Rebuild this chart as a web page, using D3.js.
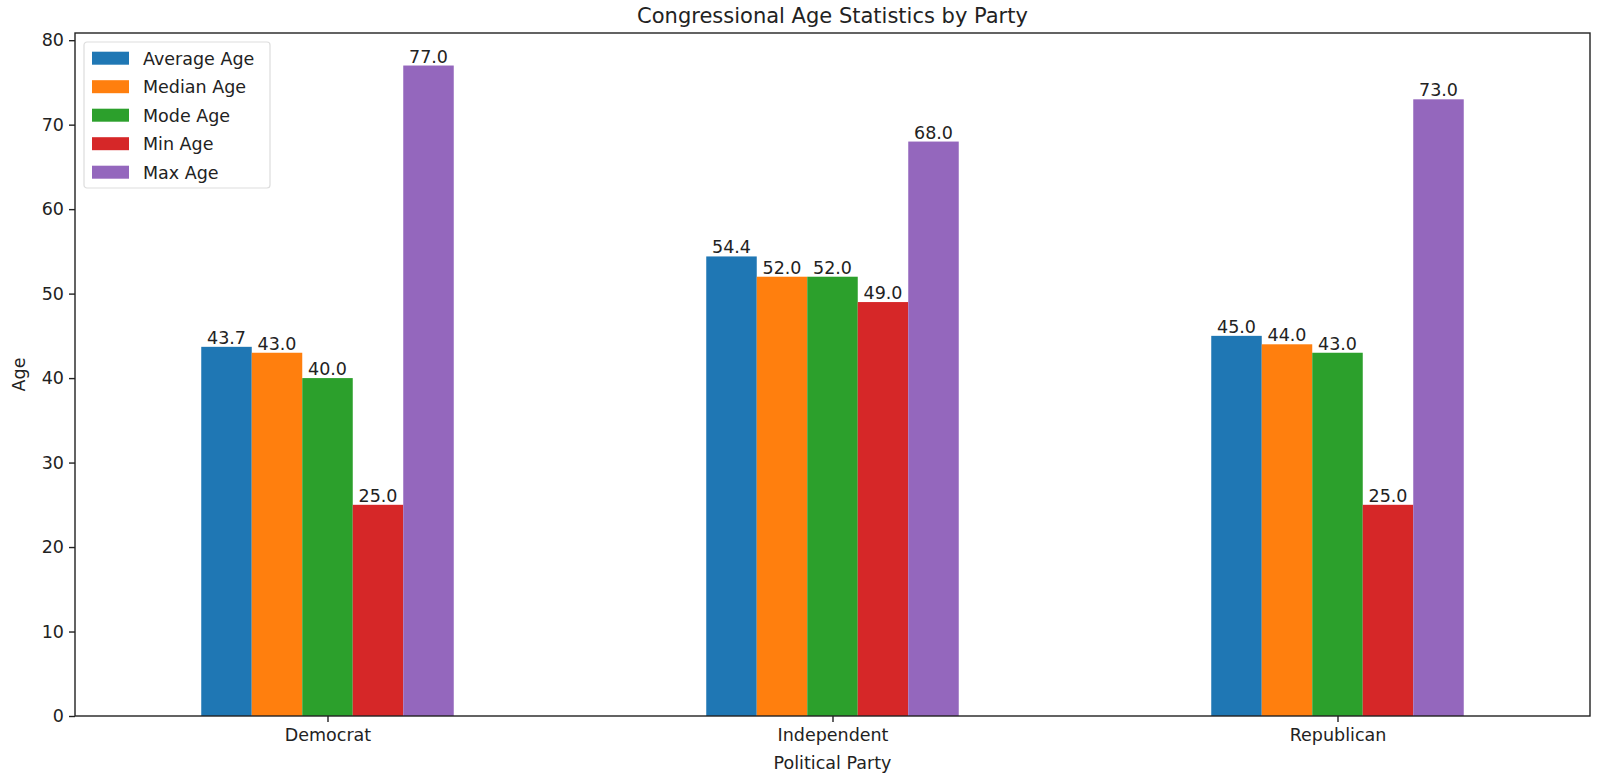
<!DOCTYPE html>
<html>
<head>
<meta charset="utf-8">
<script src="https://cdn.jsdelivr.net/npm/d3@7"></script>
<style>
body { margin: 0; background: #fff; }
text { font-family: "DejaVu Sans", sans-serif; fill: #222; }
</style>
</head>
<body>
<div id="chart"></div>
<script>
var w = 1600;
var h = 775;

var parties = ["Democrat", "Independent", "Republican"];
var seriesNames = ["Average Age", "Median Age", "Mode Age", "Min Age", "Max Age"];
var averageAge = [43.7, 54.4, 45.0];
var medianAge = [43.0, 52.0, 44.0];
var modeAge = [40.0, 52.0, 43.0];
var minAge = [25.0, 49.0, 25.0];
var maxAge = [77.0, 68.0, 73.0];
var yTicks = [0, 10, 20, 30, 40, 50, 60, 70, 80];
var colors = ["#1f77b4", "#ff7f0e", "#2ca02c", "#d62728", "#9467bd"];

var series = [averageAge, medianAge, modeAge, minAge, maxAge];

// plot area (don't use "top" - clashes with window.top)
var plotL = 75, plotR = 1590, plotT = 33, plotB = 716;

var svg = d3.select("#chart")
			.append("svg")
			.attr("width", w)
			.attr("height", h);

// linear x like matplotlib: categories at 0,1,2, limits -0.5..2.5
var x = d3.scaleLinear().domain([-0.5, 2.5]).range([plotL, plotR]);
var y = d3.scaleLinear().domain([0, 80.85]).range([plotB, plotT]);
var barW = 0.1;

//bars
series.forEach(function(vals, s) {
	var g = svg.append("g");
	g.selectAll("rect")
		.data(vals)
		.enter()
		.append("rect")
		.attr("x", function(d, i) { return x(i - 0.25 + s * barW); })
		.attr("width", x(barW) - x(0))
		.attr("y", function(d) { return y(d); })
		.attr("height", function(d) { return y(0) - y(d); })
		.attr("fill", colors[s]);

	g.selectAll("text")
		.data(vals)
		.enter()
		.append("text")
		.attr("x", function(d, i) { return x(i - 0.25 + (s + 0.5) * barW); })
		.attr("y", function(d) { return y(d) - 3; })
		.attr("text-anchor", "middle")
		.style("font-size", "17.5px")
		.text(function(d) { return d.toFixed(1); });
});

//axes
var yAxis = d3.axisLeft(y).tickValues(yTicks).tickSize(6).tickPadding(5);
var xAxis = d3.axisBottom(x).tickValues([0, 1, 2]).tickSize(6).tickPadding(7)
			.tickFormat(function(d) { return parties[d]; });

var ga = svg.append("g").attr("transform", "translate(" + plotL + ",0)").call(yAxis);
var gb = svg.append("g").attr("transform", "translate(0," + plotB + ")").call(xAxis);
[ga, gb].forEach(function(g) {
	g.select(".domain").remove();
	g.selectAll("line").attr("stroke", "#222").attr("stroke-width", 1.4);
	g.selectAll("text").style("font-size", "17.5px").attr("fill", "#222");
});

svg.append("rect")
	.attr("x", plotL).attr("y", plotT)
	.attr("width", plotR - plotL).attr("height", plotB - plotT)
	.attr("fill", "none").attr("stroke", "#222").attr("stroke-width", 1.4);

//titles
svg.append("text")
	.attr("x", (plotL + plotR) / 2).attr("y", 23)
	.attr("text-anchor", "middle")
	.style("font-size", "21px")
	.text("Congressional Age Statistics by Party");

svg.append("text")
	.attr("x", (plotL + plotR) / 2).attr("y", 769)
	.attr("text-anchor", "middle")
	.style("font-size", "17.5px")
	.text("Political Party");

svg.append("text")
	.attr("transform", "translate(25," + ((plotT + plotB) / 2) + ") rotate(-90)")
	.attr("text-anchor", "middle")
	.style("font-size", "17.5px")
	.text("Age");

//legend
var lg = svg.append("g").attr("transform", "translate(84,42)");
lg.append("rect")
	.attr("width", 186).attr("height", 146)
	.attr("rx", 3)
	.attr("fill", "#fff").attr("fill-opacity", 0.8)
	.attr("stroke", "#ddd").attr("stroke-width", 1.2);

var items = lg.selectAll("g.item")
	.data(seriesNames)
	.enter()
	.append("g")
	.attr("class", "item")
	.attr("transform", function(d, i) { return "translate(0," + (8.7 + i * 28.5) + ")"; });

items.append("rect")
	.attr("x", 8).attr("y", 1)
	.attr("width", 37).attr("height", 13)
	.attr("fill", function(d, i) { return colors[i]; });

items.append("text")
	.attr("x", 59).attr("y", 14)
	.style("font-size", "17.5px")
	.text(function(d) { return d; });
</script>
</body>
</html>
